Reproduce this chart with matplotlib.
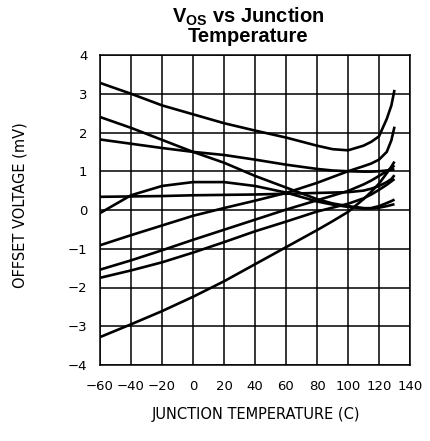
import numpy as np
import matplotlib
matplotlib.use("Agg")
import matplotlib.pyplot as plt

plt.rcParams['mathtext.fontset'] = 'custom'
plt.rcParams['mathtext.bf'] = 'Liberation Sans:bold'
plt.rcParams['mathtext.rm'] = 'Liberation Sans'

# junction temperature (C)
temps = [-60, -40, -20, 0, 20, 40, 60, 80, 90, 100, 110, 115, 120, 125, 128, 130]

# offset voltage (mV) of each sample unit
vos_1 = [3.28, 3.00, 2.70, 2.47, 2.24, 2.05, 1.87, 1.66, 1.57, 1.54, 1.66, 1.76, 1.90, 2.35, 2.70, 3.10]
vos_2 = [2.40, 2.12, 1.81, 1.50, 1.22, 0.88, 0.58, 0.28, 0.17, 0.10, 0.05, 0.04, 0.06, 0.10, 0.13, 0.15]
vos_3 = [1.82, 1.71, 1.60, 1.50, 1.42, 1.30, 1.17, 1.06, 1.02, 1.00, 0.99, 0.99, 1.00, 1.02, 1.04, 1.05]
vos_4 = [-0.08, 0.38, 0.62, 0.72, 0.72, 0.62, 0.45, 0.22, 0.14, 0.08, 0.04, 0.05, 0.10, 0.18, 0.23, 0.27]
vos_5 = [0.34, 0.35, 0.36, 0.38, 0.39, 0.40, 0.42, 0.44, 0.45, 0.46, 0.50, 0.55, 0.62, 0.72, 0.80, 0.90]
vos_6 = [-0.91, -0.65, -0.40, -0.15, 0.05, 0.24, 0.44, 0.70, 0.85, 1.00, 1.13, 1.20, 1.30, 1.50, 1.80, 2.15]
vos_7 = [-1.54, -1.30, -1.04, -0.77, -0.51, -0.25, 0.01, 0.25, 0.37, 0.49, 0.66, 0.76, 0.88, 1.00, 1.08, 1.15]
vos_8 = [-1.75, -1.56, -1.35, -1.10, -0.83, -0.55, -0.30, -0.04, 0.06, 0.16, 0.30, 0.40, 0.52, 0.65, 0.74, 0.80]
vos_9 = [-3.28, -2.95, -2.61, -2.24, -1.84, -1.40, -0.96, -0.52, -0.29, -0.05, 0.28, 0.47, 0.68, 0.95, 1.12, 1.25]

x_ticks = [-60, -40, -20, 0, 20, 40, 60, 80, 100, 120, 140]
y_ticks = [-4, -3, -2, -1, 0, 1, 2, 3, 4]

fig = plt.figure(figsize=(4.3, 4.41), dpi=100)
ax = fig.add_axes([100/430, 1-365/441, 310/430, 310/441])

for v in [vos_1, vos_2, vos_3, vos_4, vos_5, vos_6, vos_7, vos_8, vos_9]:
    ax.plot(temps, v, color='black', linewidth=1.9, solid_capstyle='butt')

ax.set_xlim(-60, 140)
ax.set_ylim(-4, 4)
ax.set_xticks(x_ticks)
ax.set_yticks(y_ticks)
ax.grid(True, color='black', linewidth=1.1)
ax.set_axisbelow(True)
for s in ax.spines.values():
    s.set_linewidth(1.1)
ax.tick_params(length=0, labelsize=9.5)
ax.tick_params(axis='y', pad=9)
ax.tick_params(axis='x', pad=11)

fig.text(248/430, 1-22.5/441, r'V$_{\mathbf{OS}}$ vs Junction', ha='center', va='baseline',
         fontsize=14.5, fontweight='bold', family='Liberation Sans')
fig.text(248/430, 1-41.5/441, 'Temperature', ha='center', va='baseline',
         fontsize=14.5, fontweight='bold', family='Liberation Sans')

fig.text(256/430, 1-415/441, 'JUNCTION TEMPERATURE (C)', ha='center', va='center', fontsize=10.5)
fig.text(20/430, 1-205/441, 'OFFSET VOLTAGE (mV)', ha='center', va='center', rotation=90, fontsize=10.5)

fig.savefig('out.png', dpi=100)
